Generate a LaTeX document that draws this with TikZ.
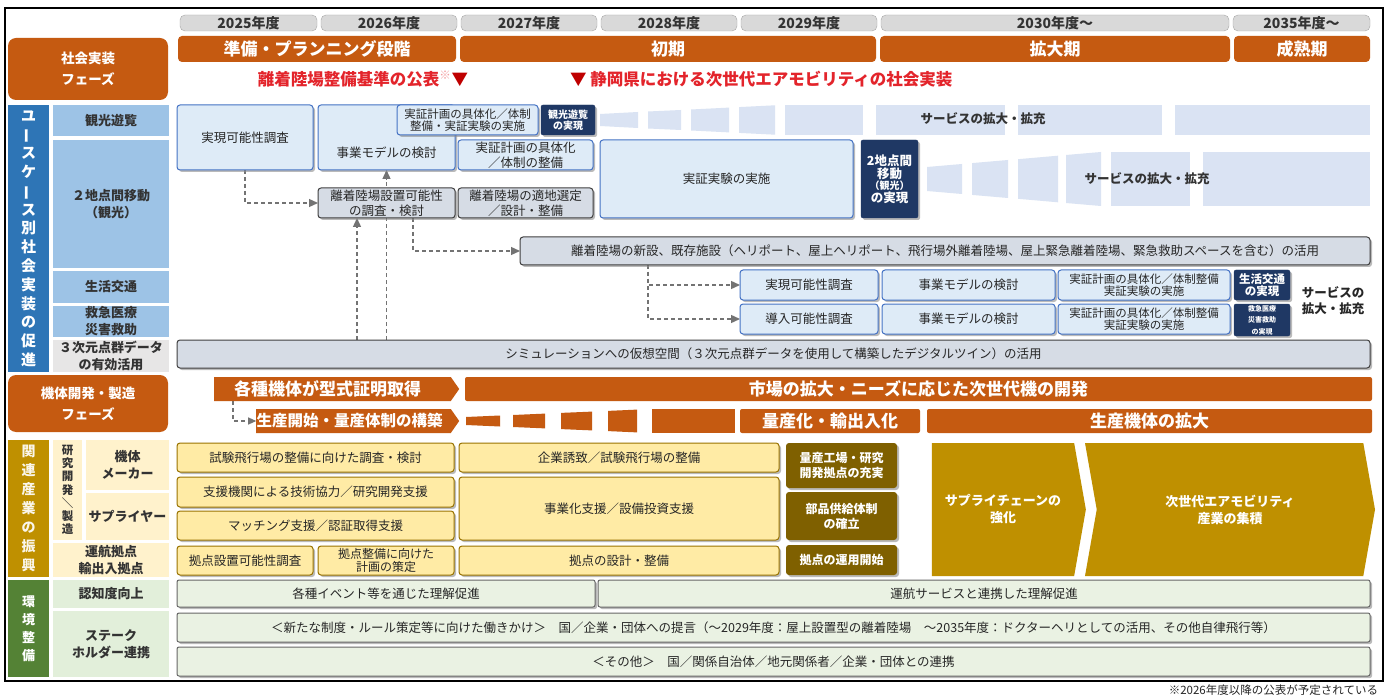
\documentclass[tikz,border=0pt]{standalone}
\usepackage{fontspec}
\setmainfont{Noto Sans CJK JP}
\usetikzlibrary{shapes.symbols,shadows,arrows.meta}
\pgfdeclarelayer{back}
\pgfdeclarelayer{bg}
\pgfsetlayers{back,bg,main}
\definecolor{org}{HTML}{C55A11}
\definecolor{redt}{HTML}{E3242B}
\definecolor{tabg}{HTML}{D9D9D9}
\definecolor{ufill}{HTML}{DEEBF7}
\definecolor{uline}{HTML}{4472C4}
\definecolor{gfill}{HTML}{D6DCE5}
\definecolor{navy}{HTML}{1F3864}
\definecolor{fanb}{HTML}{DAE3F3}
\definecolor{blbl}{HTML}{2E75B6}
\definecolor{slbl}{HTML}{9DC3E6}
\definecolor{glbl}{HTML}{E7E6E6}
\definecolor{cgold}{HTML}{BF9000}
\definecolor{ylbl}{HTML}{FFF2CC}
\definecolor{yfill}{HTML}{FFEBA5}
\definecolor{cbrown}{HTML}{7F6000}
\definecolor{grn}{HTML}{548235}
\definecolor{lgrn}{HTML}{E2EFDA}
\definecolor{efill}{HTML}{EAF2E3}
\newcommand{\fz}[2]{\fontsize{#1}{#2}\selectfont}
\newcommand{\vbar}{\rotatebox[origin=c]{90}{ー}}
\newcommand{\bx}[7]{\node[#1,minimum width={(#5)-(#3)},minimum height={(#6)-(#4)}] (#2) at ({((#3)+(#5))/2},{((#4)+(#6))/2}) {#7};}
\tikzset{
 base/.style={inner sep=0pt,outer sep=0pt,align=center},
 tab/.style={base,fill=tabg,draw=black!35,rounded corners=5pt,font=\fz{14}{15}\bfseries,text=black!80},
 phase/.style={base,fill=org,rounded corners=4pt,font=\fz{17}{19}\bfseries,text=white},
 olbl/.style={base,fill=org,rounded corners=8pt,font=\fz{13.5}{21}\bfseries,text=white},
 shd/.style={drop shadow={shadow xshift=2pt,shadow yshift=-2pt,fill=black!45,opacity=.6}},
 ubox/.style={base,shd,fill=ufill,draw=uline,line width=1pt,rounded corners=3pt,font=\fz{12.5}{15},text=black!85},
 usm/.style={ubox,font=\fz{11.5}{12.5}},
 gbox/.style={base,shd,fill=gfill,draw=black!75,line width=1pt,rounded corners=3pt,font=\fz{12.5}{15},text=black!85},
 nbox/.style={base,shd,fill=navy,draw=navy,rounded corners=2pt,font=\fz{10}{11.5}\bfseries,text=white},
 blabel/.style={base,fill=blbl,font=\fz{15}{18.8}\bfseries,text=white},
 slabel/.style={base,fill=slbl,font=\fz{13}{17}\bfseries,text=black!80},
 glabel/.style={base,fill=glbl,font=\fz{13}{17}\bfseries,text=black!80},
 obar/.style={base,fill=org,rounded corners=2pt,font=\fz{17}{19}\bfseries,text=white},
 osig/.style={base,fill=org,signal,signal to=east,signal pointer angle=110,font=\fz{17}{19}\bfseries,text=white},
 goldlabel/.style={base,fill=cgold,font=\fz{14}{19}\bfseries,text=white!92!cgold},
 ylabel/.style={base,fill=ylbl,font=\fz{13}{17}\bfseries,text=black!80},
 yvlabel/.style={ylabel,font=\fz{11.5}{13.2}\bfseries},
 ibox/.style={base,shd,fill=yfill,draw=cgold!80!black,line width=1pt,rounded corners=3pt,font=\fz{12.5}{15},text=black!85},
 ism/.style={ibox,font=\fz{12}{13}},
 dbox/.style={base,shd,fill=cbrown,rounded corners=3pt,font=\fz{12}{15}\bfseries,text=white},
 chev/.style={base,fill=cgold,signal,signal to=east,signal pointer angle=160,font=\fz{13}{17}\bfseries,text=white},
 greenlabel/.style={base,fill=grn,font=\fz{13}{18}\bfseries,text=white},
 lglabel/.style={base,fill=lgrn,font=\fz{13}{17}\bfseries,text=black!80},
 ebox/.style={base,shd,fill=efill,draw=black!60,line width=1pt,rounded corners=2pt,font=\fz{12.5}{15},text=black!85},
 txt/.style={inner sep=0pt,outer sep=0pt,align=center},
 darr/.style={draw=black!55,dash pattern=on 4pt off 3pt,line width=1.3pt,-{Triangle[length=9pt,width=8pt]}},
}
\begin{document}
\begin{tikzpicture}[x=1pt,y=-1pt]
\useasboundingbox (0,0) rectangle (1390,695);
\begin{pgfonlayer}{back}
\fill[white] (0,0) rectangle (1390,695);
\end{pgfonlayer}
\draw[line width=1.5pt] (5,8) rectangle (1383,681);

% year tabs
\bx{tab}{y25}{180}{15}{317}{31}{2025年度}
\bx{tab}{y26}{321}{15}{457}{31}{2026年度}
\bx{tab}{y27}{461}{15}{597}{31}{2027年度}
\bx{tab}{y28}{601}{15}{737}{31}{2028年度}
\bx{tab}{y29}{741}{15}{877}{31}{2029年度}
\bx{tab}{y30}{881}{15}{1229}{31}{2030年度～}
\bx{tab}{y35}{1233}{15}{1370}{31}{2035年度～}

% phases
\bx{phase}{p1}{178}{36}{456}{62}{準備・プランニング段階}
\bx{phase}{p2}{460}{36}{876}{62}{初期}
\bx{phase}{p3}{880}{36}{1230}{62}{拡大期}
\bx{phase}{p4}{1234}{36}{1370}{62}{成熟期}
\bx{olbl}{l1}{8}{38}{168}{100}{社会実装\\フェーズ}

\node[txt,anchor=east,font=\fz{16.5}{18}\bfseries,text=redt] (kijun) at (468,79) {離着陸場整備基準の公表\textsuperscript{\textcolor{redt!45}{※}}\textcolor{red!75!black}{▼}};
\node[txt,anchor=west,font=\fz{16.5}{18}\bfseries,text=redt] (shakai) at (570,79) {\textcolor{red!75!black}{▼} 静岡県における次世代エアモビリティの社会実装};

% use case labels
\bx{blabel}{uc}{8}{105}{49}{372}{ユ\\\vbar\\ス\\ケ\\\vbar\\ス\\別\\社\\会\\実\\装\\の\\促\\進}
\bx{slabel}{u1}{53}{105}{169}{136}{観光遊覧}
\bx{slabel}{u2}{53}{140}{169}{268}{２地点間移動\\（観光）}
\bx{slabel}{u3}{53}{271}{169}{303}{生活交通}
\bx{slabel}{u4}{53}{306}{169}{337}{救急医療\\災害救助}
\bx{glabel}{u5}{53}{340}{169}{372}{３次元点群データ\\の有効活用}

% fans (top row)
\fill[fanb] (600,114) -- (638,112) -- (638,128) -- (600,126) -- cycle;
\fill[fanb] (648,111.5) -- (681,110) -- (681,130) -- (648,128.5) -- cycle;
\fill[fanb] (691,109.5) -- (729,107.6) -- (729,132.4) -- (691,130.5) -- cycle;
\fill[fanb] (739,107.1) -- (775,105.3) -- (775,134.7) -- (739,132.9) -- cycle;
\fill[fanb] (785,105) rectangle (863,135);
\fill[fanb] (876,105) rectangle (1005,135);
\fill[fanb] (1018,105) rectangle (1162,135);
\fill[fanb] (1175,105) rectangle (1370,135);
\node[txt,font=\fz{12.5}{15}\bfseries,text=black!80] (sv1) at (983,119) {サービスの拡大・拡充};
% fans (row 2)
\fill[fanb] (927,167) -- (962,164) -- (962,194) -- (927,191) -- cycle;
\fill[fanb] (972,163.1) -- (1008,160) -- (1008,198) -- (972,194.9) -- cycle;
\fill[fanb] (1018,159.2) -- (1058,155.7) -- (1058,202.3) -- (1018,198.8) -- cycle;
\fill[fanb] (1066,155) -- (1101,152) -- (1101,206) -- (1066,203) -- cycle;
\fill[fanb] (1111,152) rectangle (1190,206);
\fill[fanb] (1203,152) rectangle (1370,206);
\node[txt,font=\fz{12.5}{15}\bfseries,text=black!80] (sv2) at (1147,179) {サービスの拡大・拡充};

% use case boxes
\bx{ubox}{fs1}{177}{105}{313}{170}{実現可能性調査}
\bx{ubox}{bm}{318}{105}{455}{170}{}
\node[txt,font=\fz{12.5}{15},text=black!85] (bmt) at (386.5,153) {事業モデルの検討};
\bx{usm}{jk1}{397}{105}{538}{135}{実証計画の具体化／体制\\整備・実証実験の実施}
\bx{nbox}{nk}{541}{105}{595}{135}{観光遊覧\\の実現}
\bx{ubox}{jk2}{458}{140}{593}{170}{実証計画の具体化\\／体制の整備}
\bx{gbox}{lp}{318}{188}{455}{218}{離着陸場設置可能性\\の調査・検討}
\bx{gbox}{ts}{458}{188}{593}{218}{離着陸場の適地選定\\／設計・整備}
\bx{ubox}{jj}{600}{140}{853}{218}{実証実験の実施}
\bx{nbox}{n2}{861}{140}{918}{218}{\fz{12.5}{15}2地点間\\\fz{12.5}{15}移動\\\fz{10}{13}（観光）\\\fz{12.5}{15}の実現}
\bx{gbox}{ns}{520}{237}{1370}{265}{離着陸場の新設、既存施設（ヘリポート、屋上ヘリポート、飛行場外離着陸場、屋上緊急離着陸場、緊急救助スペースを含む）の活用}
\bx{ubox}{lt1}{740}{270}{878}{300}{実現可能性調査}
\bx{ubox}{lt2}{882}{270}{1055}{300}{事業モデルの検討}
\bx{usm}{lt3}{1058}{270}{1230}{300}{実証計画の具体化／体制整備\\実証実験の実施}
\bx{nbox}{n3}{1234}{270}{1290}{300}{\fz{11.5}{13}生活交通\\\fz{11.5}{13}の実現}
\bx{ubox}{em1}{740}{304}{878}{334}{導入可能性調査}
\bx{ubox}{em2}{882}{304}{1055}{334}{事業モデルの検討}
\bx{usm}{em3}{1058}{304}{1230}{334}{実証計画の具体化／体制整備\\実証実験の実施}
\bx{nbox}{n4}{1234}{304}{1290}{336}{\fz{7}{9}救急医療\\\fz{7}{9}災害救助\\\fz{7}{9}の実現}
\node[txt,font=\fz{12.5}{16}\bfseries,text=black!85] (sv3) at (1333,301) {サービスの\\拡大・拡充};
\bx{gbox}{sim}{177}{340}{1370}{368}{シミュレーションへの仮想空間（３次元点群データを使用して構築したデジタルツイン）の活用}

\coordinate (c357) at (357,0);
\coordinate (c413) at (413,0);
\coordinate (c648) at (648,0);
\begin{pgfonlayer}{bg}
\draw[darr] (fs1.south) |- (lp.west);
\draw[darr] (c357 |- sim.north) -- (c357 |- lp.south);
\draw[darr] (bm.south |- sim.north) -- (bm.south);
\draw[darr] (c413 |- lp.south) |- (ns.west);
\draw[darr] (c648 |- ns.south) |- (lt1.west);
\draw[darr] (c648 |- ns.south) |- (em1.west);
\end{pgfonlayer}

% machine development
\bx{olbl}{l2}{8}{375}{168}{432}{機体開発・製造\\フェーズ}
\node[osig,minimum width=245,minimum height=24] (kk) at (332.5,389) {各種機体が型式証明取得\hspace{10pt}};
\bx{obar}{ic}{465}{377}{1372}{401}{市場の拡大・ニーズに応じた次世代機の開発}
\node[osig,minimum width=203,minimum height=24,font=\fz{15.5}{17}\bfseries] (ss) at (353.5,421) {生産開始・量産体制の構築\hspace{8pt}};
\fill[org] (466,417) -- (500,415.5) -- (500,426.5) -- (466,425) -- cycle;
\fill[org] (513,415) -- (545,413.6) -- (545,428.4) -- (513,427) -- cycle;
\fill[org] (561,412.9) -- (592,411.6) -- (592,430.4) -- (561,429.1) -- cycle;
\fill[org] (608,410.9) -- (637,409.6) -- (637,432.4) -- (608,431.1) -- cycle;
\fill[org] (652,409) rectangle (735,433);
\bx{obar}{ry}{740}{409}{920}{433}{量産化・輸出入化}
\bx{obar}{sk}{927}{409}{1372}{433}{生産機体の拡大}
\coordinate (c233) at (233,0);
\begin{pgfonlayer}{bg}
\draw[darr,line width=1.1pt,-{Triangle[length=8pt,width=7pt]}] (c233 |- kk.south) |- (ss.west);
\end{pgfonlayer}

% industry
\bx{goldlabel}{g0}{8}{440}{49}{577}{関\\連\\産\\業\\の\\振\\興}
\bx{yvlabel}{g1}{53}{440}{82}{540}{研\\究\\開\\発\\＼\\製\\造}
\bx{ylabel}{g2}{86}{440}{169}{490}{機体\\メーカー}
\bx{ylabel}{g3}{86}{493}{169}{540}{サプライヤー}
\bx{ylabel}{g4}{53}{543}{169}{577}{運航拠点\\輸出入拠点}
\bx{ibox}{i1}{177}{443}{454}{472}{試験飛行場の整備に向けた調査・検討}
\bx{ibox}{i2}{177}{477}{454}{507}{支援機関による技術協力／研究開発支援}
\bx{ibox}{i3}{177}{511}{454}{540}{マッチング支援／認証取得支援}
\bx{ibox}{i4}{177}{546}{313}{575}{拠点設置可能性調査}
\bx{ism}{i5}{318}{546}{454}{575}{拠点整備に向けた\\計画の策定}
\bx{ibox}{i6}{459}{443}{779}{472}{企業誘致／試験飛行場の整備}
\bx{ibox}{i7}{459}{477}{779}{540}{事業化支援／設備投資支援}
\bx{ibox}{i8}{459}{546}{779}{575}{拠点の設計・整備}
\bx{dbox}{d1}{786}{443}{897}{488}{量産工場・研究\\開発拠点の充実}
\bx{dbox}{d2}{786}{492}{897}{540}{部品供給体制\\の確立}
\bx{dbox}{d3}{786}{545}{897}{575}{拠点の運用開始}
\node[chev,minimum width=154,minimum height=133] (c1) at (1003,509.5) {サプライチェーンの\\強化};
\node[chev,signal from=west,minimum width=290,minimum height=133] (c2) at (1230,509.5) {次世代エアモビリティ\\産業の集積};

% environment
\bx{greenlabel}{e0}{8}{580}{49}{677}{環\\境\\整\\備}
\bx{lglabel}{e1}{53}{580}{169}{608}{認知度向上}
\bx{lglabel}{e2}{53}{611}{169}{677}{ステーク\\ホルダー連携}
\bx{ebox}{e3}{177}{580}{595}{607}{各種イベント等を通じた理解促進}
\bx{ebox}{e4}{598}{580}{1370}{607}{運航サービスと連携した理解促進}
\bx{ebox}{e5}{177}{613}{1370}{642}{＜新たな制度・ルール策定等に向けた働きかけ＞　国／企業・団体への提言（～2029年度：屋上設置型の離着陸場　～2035年度：ドクターヘリとしての活用、その他自律飛行等）}
\bx{ebox}{e6}{177}{647}{1370}{676}{＜その他＞　国／関係自治体／地元関係者／企業・団体との連携}
\node[txt,anchor=south east,font=\fz{11.5}{13},text=black!85] (fn) at (1378,695) {※2026年度以降の公表が予定されている};
\end{tikzpicture}
\end{document}
